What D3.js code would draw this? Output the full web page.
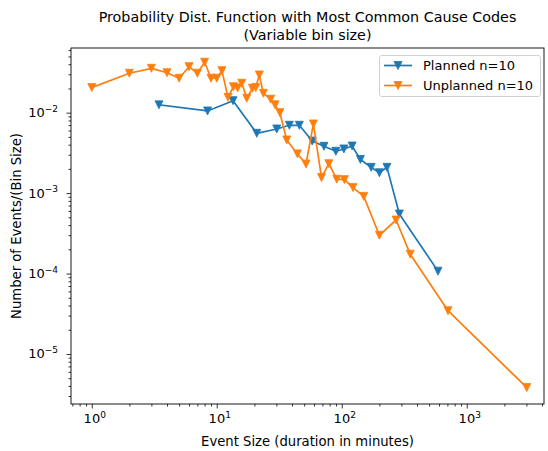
<!DOCTYPE html>
<html><head><meta charset="utf-8">
<script src="https://cdn.jsdelivr.net/npm/d3@7"></script>
<style>body{margin:0;background:#fff}svg{display:block}text{font-family:"DejaVu Sans",sans-serif;fill:#000}</style>
</head><body><svg id="c" width="548" height="451"></svg>
<script>
const titleLines = ["Probability Dist. Function with Most Common Cause Codes", "(Variable bin size)"];
const xLabel = "Event Size (duration in minutes)";
const yLabel = "Number of Events/(Bin Size)";
const seriesNames = ["Planned n=10", "Unplanned n=10"];
const seriesColors = ["#1f77b4", "#ff7f0e"];
const xTickExps = [0, 1, 2, 3];
const yTickExps = [-2, -3, -4, -5];

const plannedX = [3.45, 8.44, 13.5, 20.9, 30.2, 38.1, 45.8, 58.1, 72.1, 89.7, 104, 121, 141, 172, 200, 230, 289, 589];
const plannedY = [0.0125, 0.0105, 0.0141, 0.00554, 0.00627, 0.00697, 0.00697, 0.00444, 0.00382, 0.00331, 0.00354, 0.00385, 0.00262, 0.00209, 0.00179, 0.00209, 0.00055, 0.000107];

const unplannedX = [1, 2, 3, 4, 5, 6, 7, 8, 9, 10, 11, 12.3, 13.6, 14.7, 15.85, 17.4, 19.3, 20.5, 21.9, 23.6, 27, 29.3, 32, 36.3, 44.2, 51.8, 59.3, 68.9, 78.8, 91.2, 105, 123, 150, 200, 272, 353, 708, 3020];
const unplannedY = [0.0205, 0.0309, 0.0356, 0.0314, 0.0268, 0.0373, 0.0309, 0.0424, 0.0268, 0.0268, 0.0333, 0.0155, 0.021, 0.0203, 0.0232, 0.0151, 0.0201, 0.0205, 0.0294, 0.0174, 0.0147, 0.0125, 0.01, 0.00458, 0.00307, 0.0023, 0.00724, 0.00156, 0.00232, 0.00149, 0.00147, 0.00117, 0.00091, 0.000299, 0.000463, 0.000174, 3.45e-5, 3.82e-6];

const series = [
  {name: seriesNames[0], color: seriesColors[0], pts: plannedX.map((x, i) => [x, plannedY[i]])},
  {name: seriesNames[1], color: seriesColors[1], pts: unplannedX.map((x, i) => [x, unplannedY[i]])}
];

const L = 71, R = 544, T = 48, B = 404;
const svg = d3.select("#c");
const x = d3.scaleLog().domain([Math.pow(10, -0.166), Math.pow(10, 3.618)]).range([L, R]);
const y = d3.scaleLog().domain([Math.pow(10, -5.622), Math.pow(10, -1.196)]).range([B, T]);

// series
const tri = d3.symbol().type({draw(ctx, size){const s=Math.sqrt(size);ctx.moveTo(-s/2,-s/2);ctx.lineTo(s/2,-s/2);ctx.lineTo(0,s/2);ctx.closePath();}}).size(64);
svg.append("clipPath").attr("id","clp").append("rect").attr("x",L).attr("y",T).attr("width",R-L).attr("height",B-T);
const plot = svg.append("g").attr("clip-path","url(#clp)");
const line = d3.line().x(d => x(d[0])).y(d => y(d[1]));
series.forEach(s => {
  plot.append("path").attr("d", line(s.pts)).attr("fill","none").attr("stroke",s.color).attr("stroke-width",1.7).attr("stroke-linejoin","round").attr("stroke-linecap","square");
  plot.selectAll(null).data(s.pts).enter().append("path").attr("d", tri).attr("transform", d => `translate(${x(d[0])},${y(d[1])})`).attr("fill", s.color).attr("stroke", s.color).attr("stroke-width", 0.8);
});

// axes
const xMinor = [], yMinor = [];
for (let e = -1; e <= 3; e++) for (let m = 2; m <= 9; m++) { const v = m * Math.pow(10, e); if (v >= x.domain()[0] && v <= x.domain()[1]) xMinor.push(v); }
for (let e = -6; e <= -2; e++) for (let m = 2; m <= 9; m++) { const v = m * Math.pow(10, e); if (v >= y.domain()[0] && v <= y.domain()[1]) yMinor.push(v); }

svg.append("g").attr("transform", `translate(0,${B})`)
  .call(d3.axisBottom(x).tickValues(xMinor).tickSize(2.5).tickFormat(""));
svg.append("g").attr("transform", `translate(0,${B})`)
  .call(d3.axisBottom(x).tickValues(xTickExps.map(e => Math.pow(10, e))).tickSize(4.5).tickFormat(""));
svg.append("g").attr("transform", `translate(${L},0)`)
  .call(d3.axisLeft(y).tickValues(yMinor).tickSize(2.5).tickFormat(""));
svg.append("g").attr("transform", `translate(${L},0)`)
  .call(d3.axisLeft(y).tickValues(yTickExps.map(e => Math.pow(10, e))).tickSize(4.5).tickFormat(""));
svg.selectAll(".domain").remove();
svg.selectAll(".tick line").attr("stroke", "#000").attr("stroke-width", 0.8);

// tick labels
xTickExps.forEach(e => {
  const t = svg.append("text").attr("x", x(Math.pow(10, e)) + 3).attr("y", 423).attr("text-anchor", "middle").attr("font-size", 13);
  t.append("tspan").text("10");
  t.append("tspan").attr("dy", -5.5).attr("font-size", 9).text(String(e));
});
yTickExps.forEach(e => {
  const t = svg.append("text").attr("x", 58).attr("y", y(Math.pow(10, e)) + 4.5).attr("text-anchor", "end").attr("font-size", 13);
  t.append("tspan").text("10");
  t.append("tspan").attr("dy", -5.5).attr("font-size", 9).text("\u2212" + Math.abs(e));
});

// frame
svg.append("rect").attr("x", L).attr("y", T).attr("width", R - L).attr("height", B - T).attr("fill", "none").attr("stroke", "#000").attr("stroke-width", 0.9);

// titles
svg.append("text").attr("x", (L + R) / 2).attr("y", 22).attr("text-anchor", "middle").attr("font-size", 14.3).text(titleLines[0]);
svg.append("text").attr("x", (L + R) / 2).attr("y", 40).attr("text-anchor", "middle").attr("font-size", 14.3).text(titleLines[1]);
svg.append("text").attr("x", (L + R) / 2).attr("y", 446).attr("text-anchor", "middle").attr("font-size", 13.2).text(xLabel);
svg.append("text").attr("transform", `translate(21,${(T + B) / 2}) rotate(-90)`).attr("text-anchor", "middle").attr("font-size", 13.2).text(yLabel);

// legend
const lg = svg.append("g");
lg.append("rect").attr("x", 379.5).attr("y", 55.5).attr("width", 161).attr("height", 41).attr("rx", 2.5).attr("fill", "#fff").attr("fill-opacity", 0.8).attr("stroke", "#ccc").attr("stroke-width", 0.9);
series.forEach((s, i) => {
  const yy = 65.5 + i * 20;
  lg.append("line").attr("x1", 384).attr("x2", 412).attr("y1", yy).attr("y2", yy).attr("stroke", s.color).attr("stroke-width", 1.7);
  lg.append("path").attr("d", tri).attr("transform", `translate(398,${yy})`).attr("fill", s.color).attr("stroke", s.color).attr("stroke-width", 0.8);
  lg.append("text").attr("x", 423).attr("y", yy + 4.5).attr("font-size", 13).text(s.name);
});
</script></body></html>
